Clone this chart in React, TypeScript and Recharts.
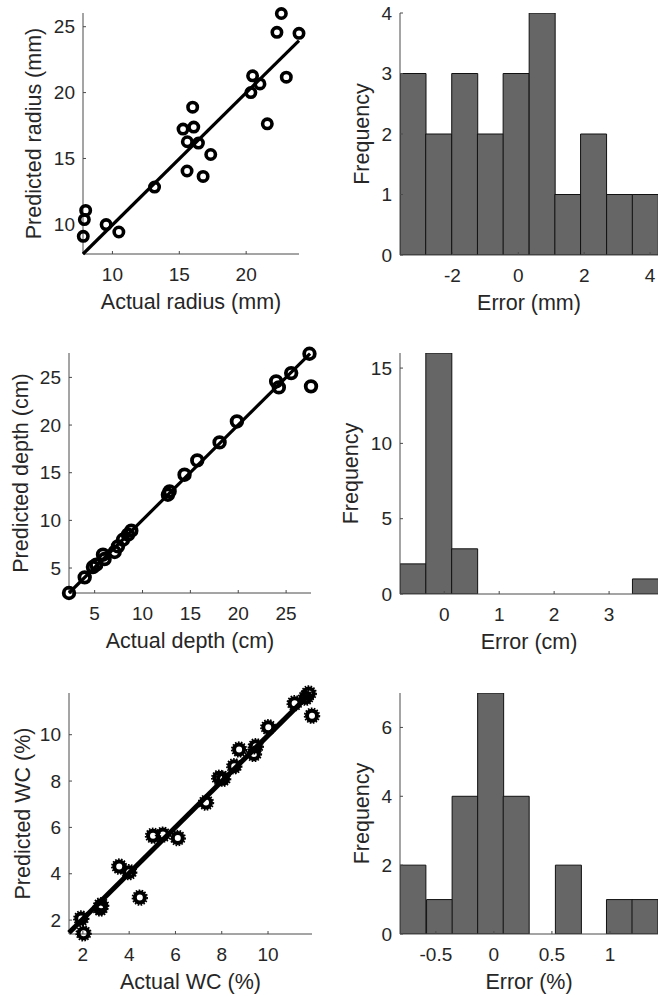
import React from "react";
import { Bar, ComposedChart, Scatter, ScatterChart, XAxis, YAxis } from "recharts";

const FONT = '"Liberation Sans", Arial, Helvetica, sans-serif';
const INK = "#262626";
const BOX = "#4a4a4a";
const BAR_FILL = "#666666";

// radius: actual vs predicted (mm)
const radiusActual = [22.63, 22.3, 23.95, 20.48, 21.03, 20.35, 23.0, 21.58, 16.0, 16.08, 15.28, 15.6, 16.43, 17.35, 15.58, 16.78, 13.15, 8.0, 7.9, 9.53, 10.48, 7.82];
const radiusPredicted = [26.0, 24.57, 24.5, 21.27, 20.66, 20.0, 21.17, 17.63, 18.89, 17.38, 17.23, 16.27, 16.17, 15.3, 14.05, 13.64, 12.83, 11.06, 10.36, 9.98, 9.42, 9.09];
const radiusFit = [
  { x: 7.8, y: 7.75 },
  { x: 23.95, y: 23.95 },
];

// depth: actual vs predicted (cm)
const depthActual = [2.32, 3.96, 4.82, 5.17, 6.04, 5.87, 7.09, 7.43, 7.96, 8.48, 8.83, 12.65, 12.83, 14.39, 15.72, 18.05, 19.86, 23.96, 24.24, 25.53, 27.44, 27.6];
const depthPredicted = [2.38, 4.02, 5.1, 5.35, 5.94, 6.4, 6.68, 7.27, 7.97, 8.5, 8.92, 12.69, 13.04, 14.79, 16.29, 18.18, 20.38, 24.58, 23.95, 25.45, 27.48, 24.06];
const depthFit = [
  { x: 2.32, y: 2.38 },
  { x: 27.5, y: 27.5 },
];

// water content: actual vs predicted (%)
const wcActual = [1.93, 2.03, 2.79, 2.75, 3.57, 4.0, 4.46, 5.03, 5.46, 6.1, 7.32, 7.89, 8.06, 8.54, 8.75, 9.39, 9.47, 10.01, 11.15, 11.76, 11.63, 11.9];
const wcPredicted = [2.07, 1.43, 2.64, 2.5, 4.31, 4.07, 2.97, 5.64, 5.69, 5.54, 7.07, 8.14, 8.1, 8.64, 9.36, 9.17, 9.5, 10.32, 11.36, 11.78, 11.6, 10.82];
const wcFit = [
  { x: 1.4, y: 1.45 },
  { x: 11.85, y: 11.8 },
];

// error histograms (bin centres + counts)
const radiusErrBins = [-3.2, -2.42, -1.63, -0.85, -0.07, 0.72, 1.5, 2.28, 3.07, 3.85];
const radiusErrCounts = [3, 2, 3, 2, 3, 4, 1, 2, 1, 1];
const depthErrBins = [-0.57, -0.1, 0.37, 0.84, 1.31, 1.78, 2.25, 2.72, 3.19, 3.66];
const depthErrCounts = [2, 16, 3, 0, 0, 0, 0, 0, 0, 1];
const wcErrBins = [-0.7, -0.47, -0.25, -0.03, 0.19, 0.41, 0.64, 0.86, 1.08, 1.3];
const wcErrCounts = [2, 1, 4, 7, 4, 0, 2, 0, 1, 1];

const toPoints = (xs, ys) => xs.map((x, i) => ({ x, y: ys[i] }));
const toRows = (bins, counts) => bins.map((bin, i) => ({ bin, count: counts[i] }));

const tickStyle = { fontSize: 19, fill: INK, fontFamily: FONT };
const labelStyle = { fontSize: 21.5, fill: INK, fontFamily: FONT };

function ringMarker(r, sw) {
  return (p) => (
    <circle cx={p.cx} cy={p.cy} r={r} fill="none" stroke="#000" strokeWidth={sw} />
  );
}

function gearMarker(p) {
  return (
    <g>
      <circle cx={p.cx} cy={p.cy} r={5} fill="none" stroke="#000" strokeWidth={4} />
      <circle cx={p.cx} cy={p.cy} r={7.3} fill="none" stroke="#000" strokeWidth={1.8} strokeDasharray="1.6 1.4" />
    </g>
  );
}

function commonAxes(xKey, xDomain, xTicks, yKey, yDomain, yTicks, yw, xLabel, yLabel, yLabelX, clip) {
  return [
    <XAxis
      key="xb"
      xAxisId={0}
      type="number"
      dataKey={xKey}
      domain={xDomain}
      ticks={xTicks}
      interval={0}
      allowDataOverflow={clip}
      height={60}
      tickSize={-3}
      tickMargin={17}
      tick={tickStyle}
      axisLine={{ stroke: BOX }}
      tickLine={{ stroke: BOX }}
      label={{ value: xLabel, position: "insideBottom", offset: 5.5, ...labelStyle }}
    />,
    <XAxis
      key="xt"
      xAxisId="t"
      orientation="top"
      type="number"
      domain={xDomain}
      ticks={xTicks}
      interval={0}
      allowDataOverflow
      height={0}
      tickSize={-3}
      tick={false}
      axisLine={{ stroke: BOX }}
      tickLine={{ stroke: BOX }}
    />,
    <YAxis
      key="yl"
      yAxisId={0}
      type="number"
      dataKey={yKey}
      domain={yDomain}
      ticks={yTicks}
      interval={0}
      allowDataOverflow={clip}
      width={yw}
      tickSize={-3}
      tickMargin={11}
      tick={tickStyle}
      axisLine={{ stroke: BOX }}
      tickLine={{ stroke: BOX }}
      label={{
        value: yLabel,
        angle: -90,
        position: "insideLeft",
        offset: yLabelX,
        style: { textAnchor: "middle" },
        ...labelStyle,
      }}
    />,
    <YAxis
      key="yr"
      yAxisId="r"
      orientation="right"
      type="number"
      domain={yDomain}
      ticks={yTicks}
      interval={0}
      allowDataOverflow
      width={0}
      tickSize={-3}
      tick={false}
      axisLine={{ stroke: BOX }}
      tickLine={{ stroke: BOX }}
    />,
  ];
}

function ScatterPanel({ left, top, width, height, margin, yw, points, fit, xDomain, yDomain, xTicks, yTicks, xLabel, yLabel, yLabelX, marker, lineWidth }) {
  return (
    <div style={{ position: "absolute", left, top }}>
      <ScatterChart width={width} height={height} margin={margin}>
        {commonAxes("x", xDomain, xTicks, "y", yDomain, yTicks, yw, xLabel, yLabel, yLabelX, false)}
        <Scatter
          data={fit}
          line={{ stroke: "#000", strokeWidth: lineWidth }}
          shape={() => null}
          isAnimationActive={false}
        />
        <Scatter data={points} shape={marker} isAnimationActive={false} />
      </ScatterChart>
    </div>
  );
}

function HistPanel({ left, top, width, height, margin, yw, rows, xDomain, yDomain, xTicks, yTicks, xLabel, yLabelX }) {
  return (
    <div style={{ position: "absolute", left, top }}>
      <ComposedChart width={width} height={height} margin={margin} data={rows} barCategoryGap={0} barGap={0}>
        {commonAxes("bin", xDomain, xTicks, undefined, yDomain, yTicks, yw, xLabel, "Frequency", yLabelX, true)}
        <Bar dataKey="count" fill={BAR_FILL} stroke="#111" strokeWidth={1} isAnimationActive={false} />
      </ComposedChart>
    </div>
  );
}

export default function App() {
  return (
    <div style={{ position: "absolute", left: 0, top: 0, width: 659, height: 996, background: "#fff", fontFamily: FONT }}>
      <ScatterPanel
        left={0} top={0} width={311} height={314} yw={83}
        margin={{ top: 13, right: 12, left: 0, bottom: 0 }}
        points={toPoints(radiusActual, radiusPredicted)} fit={radiusFit}
        xDomain={[7.8, 23.95]} yDomain={[7.78, 26.04]}
        xTicks={[10, 15, 20]} yTicks={[10, 15, 20, 25]}
        xLabel="Actual radius (mm)" yLabel="Predicted radius (mm)" yLabelX={33}
        marker={ringMarker(4.7, 3.6)} lineWidth={3.2}
      />
      <HistPanel
        left={330} top={0} width={329} height={315} yw={70}
        margin={{ top: 13, right: 1, left: 0, bottom: 0 }}
        rows={toRows(radiusErrBins, radiusErrCounts)}
        xDomain={[-3.59, 4.24]} yDomain={[0, 4]}
        xTicks={[-2, 0, 2, 4]} yTicks={[0, 1, 2, 3, 4]}
        xLabel="Error (mm)" yLabelX={31.7}
      />
      <ScatterPanel
        left={0} top={320} width={323} height={333} yw={69}
        margin={{ top: 33, right: 12, left: 0, bottom: 0 }}
        points={toPoints(depthActual, depthPredicted)} fit={depthFit}
        xDomain={[2.32, 27.6]} yDomain={[2.38, 27.56]}
        xTicks={[5, 10, 15, 20, 25]} yTicks={[5, 10, 15, 20, 25]}
        xLabel="Actual depth (cm)" yLabel="Predicted depth (cm)" yLabelX={20.5}
        marker={ringMarker(5.3, 3.8)} lineWidth={3.2}
      />
      <HistPanel
        left={330} top={320} width={329} height={334} yw={70}
        margin={{ top: 33, right: 1, left: 0, bottom: 0 }}
        rows={toRows(depthErrBins, depthErrCounts)}
        xDomain={[-0.805, 3.89]} yDomain={[0, 16]}
        xTicks={[0, 1, 2, 3]} yTicks={[0, 5, 10, 15]}
        xLabel="Error (cm)" yLabelX={20}
      />
      <ScatterPanel
        left={0} top={650} width={324} height={344} yw={69}
        margin={{ top: 43, right: 12, left: 0, bottom: 0 }}
        points={toPoints(wcActual, wcPredicted)} fit={wcFit}
        xDomain={[1.4, 11.9]} yDomain={[1.4, 11.8]}
        xTicks={[2, 4, 6, 8, 10]} yTicks={[2, 4, 6, 8, 10]}
        xLabel="Actual WC (%)" yLabel="Predicted WC (%)" yLabelX={22.5}
        marker={gearMarker} lineWidth={5}
      />
      <HistPanel
        left={330} top={650} width={329} height={344} yw={70}
        margin={{ top: 43, right: 1, left: 0, bottom: 0 }}
        rows={toRows(wcErrBins, wcErrCounts)}
        xDomain={[-0.809, 1.414]} yDomain={[0, 7]}
        xTicks={[-0.5, 0, 0.5, 1]} yTicks={[0, 2, 4, 6]}
        xLabel="Error (%)" yLabelX={31.7}
      />
    </div>
  );
}
